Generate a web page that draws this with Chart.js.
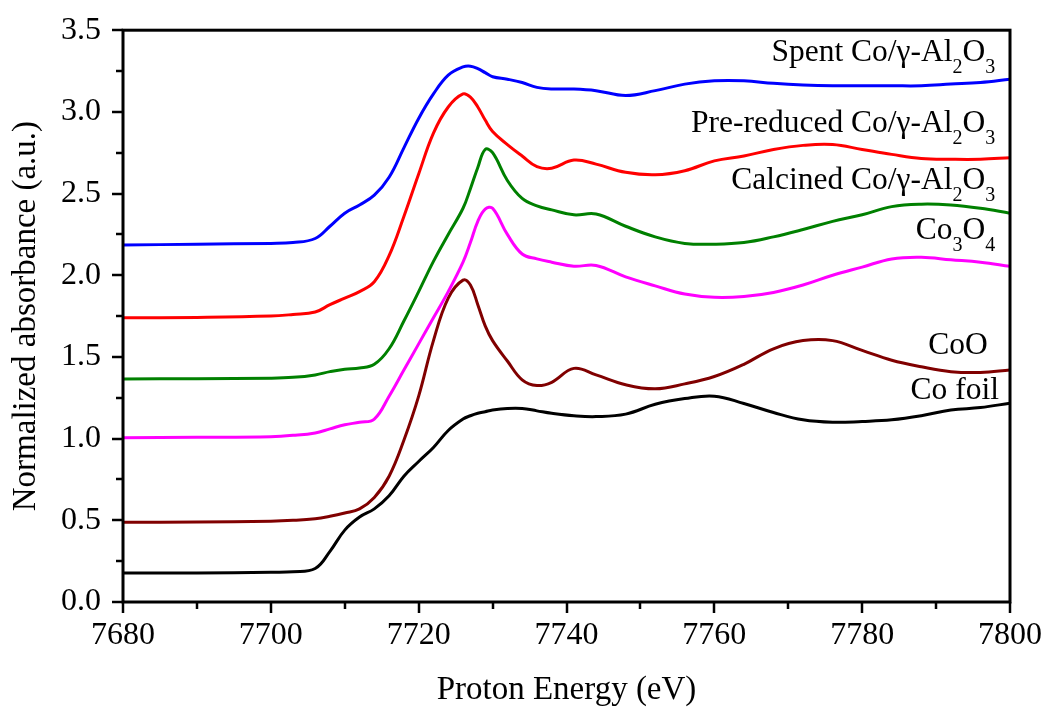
<!DOCTYPE html>
<html>
<head>
<meta charset="utf-8">
<title>Co K-edge XANES</title>
<script src="https://cdn.jsdelivr.net/npm/chart.js@4/dist/chart.umd.min.js"></script>
<style>
    html, body { margin: 0; padding: 0; background: #fff; }
    canvas { display: block; }
</style>
</head>
<body>
<canvas id="xanesChart" width="1047" height="713"></canvas>
<script>
// Photon energy grid (eV), denser around the absorption edge
const energy = [7680, 7690, 7700, 7703, 7706, 7708, 7710, 7712, 7714, 7716, 7718, 7720, 7722, 7724, 7726, 7727, 7728, 7729, 7730, 7732, 7734, 7736, 7738, 7741, 7744, 7748, 7752, 7756, 7760, 7764, 7768, 7772, 7776, 7780, 7784, 7788, 7792, 7796, 7800];

// Normalized absorbance, each spectrum offset vertically
const spent = [2.185, 2.19, 2.195, 2.20, 2.225, 2.30, 2.38, 2.43, 2.49, 2.60, 2.78, 2.96, 3.11, 3.225, 3.275, 3.28, 3.265, 3.24, 3.215, 3.20, 3.18, 3.15, 3.14, 3.14, 3.13, 3.10, 3.13, 3.17, 3.19, 3.19, 3.175, 3.165, 3.16, 3.16, 3.16, 3.16, 3.17, 3.18, 3.20];
const preReduced = [1.74, 1.742, 1.75, 1.76, 1.775, 1.82, 1.86, 1.90, 1.96, 2.12, 2.36, 2.62, 2.87, 3.03, 3.11, 3.09, 3.03, 2.95, 2.88, 2.80, 2.73, 2.665, 2.655, 2.705, 2.68, 2.63, 2.615, 2.64, 2.70, 2.73, 2.77, 2.795, 2.80, 2.77, 2.74, 2.715, 2.71, 2.71, 2.72];
const calcined = [1.365, 1.367, 1.37, 1.375, 1.39, 1.41, 1.425, 1.432, 1.455, 1.55, 1.72, 1.90, 2.085, 2.25, 2.41, 2.53, 2.66, 2.77, 2.75, 2.58, 2.47, 2.425, 2.40, 2.37, 2.375, 2.30, 2.235, 2.195, 2.19, 2.20, 2.235, 2.28, 2.33, 2.37, 2.42, 2.435, 2.43, 2.41, 2.38];
const co3o4 = [1.005, 1.008, 1.012, 1.02, 1.035, 1.06, 1.085, 1.10, 1.12, 1.26, 1.42, 1.58, 1.74, 1.90, 2.08, 2.20, 2.33, 2.405, 2.41, 2.25, 2.13, 2.10, 2.08, 2.055, 2.06, 1.99, 1.935, 1.885, 1.865, 1.87, 1.895, 1.94, 2.00, 2.05, 2.10, 2.11, 2.095, 2.08, 2.055];
const coo = [0.488, 0.49, 0.495, 0.50, 0.51, 0.525, 0.545, 0.57, 0.64, 0.77, 0.99, 1.26, 1.60, 1.86, 1.97, 1.94, 1.82, 1.69, 1.60, 1.475, 1.36, 1.325, 1.345, 1.43, 1.39, 1.33, 1.305, 1.335, 1.38, 1.455, 1.55, 1.60, 1.60, 1.54, 1.48, 1.44, 1.41, 1.405, 1.42];
const coFoil = [0.177, 0.178, 0.182, 0.185, 0.205, 0.31, 0.44, 0.52, 0.57, 0.65, 0.77, 0.86, 0.946, 1.05, 1.12, 1.14, 1.155, 1.165, 1.175, 1.185, 1.185, 1.17, 1.155, 1.14, 1.135, 1.15, 1.21, 1.245, 1.26, 1.215, 1.16, 1.115, 1.10, 1.105, 1.115, 1.14, 1.175, 1.19, 1.217];

const seriesNames = ["Spent", "Pre-reduced", "Calcined", "Co3O4", "CoO", "Co foil"];
const seriesColors = ["#0000ff", "#ff0000", "#008000", "#ff00ff", "#800000", "#000000"];

// Curve captions (text pieces, 1 = subscript), anchored at their right end
const captionTexts = [
    [["Spent Co/\u03b3-Al", 0], ["2", 1], ["O", 0], ["3", 1]],
    [["Pre-reduced Co/\u03b3-Al", 0], ["2", 1], ["O", 0], ["3", 1]],
    [["Calcined Co/\u03b3-Al", 0], ["2", 1], ["O", 0], ["3", 1]],
    [["Co", 0], ["3", 1], ["O", 0], ["4", 1]],
    [["CoO", 0]],
    [["Co foil", 0]]
];
const captionX = [7798, 7798, 7798, 7798, 7797, 7798.5];
const captionY = [3.31, 2.875, 2.53, 2.22, 1.52, 1.245];

const SERIF = '"Liberation Serif", "Times New Roman", serif';

function toPoints(ys) {
    return ys.map((y, i) => ({ x: energy[i], y: y }));
}

const allSeries = [spent, preReduced, calcined, co3o4, coo, coFoil];

// Frame, outward major/minor ticks and curve captions
const decorPlugin = {
    id: "decor",
    afterDraw(chart) {
        const ctx = chart.ctx;
        const area = chart.chartArea;
        const xs = chart.scales.x;
        const ys = chart.scales.y;

        ctx.save();
        ctx.strokeStyle = "#000";
        ctx.lineWidth = 2.5;
        ctx.lineCap = "butt";

        xs.ticks.forEach(t => {
            const px = Math.round(xs.getPixelForValue(t.value));
            const len = t.label !== "" ? 11 : 7;
            ctx.beginPath();
            ctx.moveTo(px, area.bottom);
            ctx.lineTo(px, area.bottom + len);
            ctx.stroke();
        });
        ys.ticks.forEach(t => {
            const py = Math.round(ys.getPixelForValue(t.value));
            const len = t.label !== "" ? 11 : 7;
            ctx.beginPath();
            ctx.moveTo(area.left, py);
            ctx.lineTo(area.left - len, py);
            ctx.stroke();
        });

        ctx.lineWidth = 3;
        ctx.strokeRect(area.left, area.top, area.right - area.left, area.bottom - area.top);

        // captions with subscripts, right aligned
        ctx.fillStyle = "#000";
        ctx.textBaseline = "alphabetic";
        ctx.textAlign = "left";
        const mainFont = "31.5px " + SERIF;
        const subFont = "20px " + SERIF;
        captionTexts.forEach((parts, i) => {
            let width = 0;
            parts.forEach(([txt, sub]) => {
                ctx.font = sub ? subFont : mainFont;
                width += ctx.measureText(txt).width;
            });
            let x = xs.getPixelForValue(captionX[i]) - width;
            const y = ys.getPixelForValue(captionY[i]);
            parts.forEach(([txt, sub]) => {
                ctx.font = sub ? subFont : mainFont;
                ctx.fillText(txt, x, sub ? y + 12 : y);
                x += ctx.measureText(txt).width;
            });
        });
        ctx.restore();
    }
};

new Chart(document.getElementById("xanesChart"), {
    type: "line",
    data: {
        datasets: allSeries.map((ys, i) => ({
            label: seriesNames[i],
            data: toPoints(ys),
            borderColor: seriesColors[i],
            backgroundColor: seriesColors[i],
            borderWidth: 3,
            pointRadius: 0,
            fill: false,
            tension: 0.4
        }))
    },
    options: {
        responsive: false,
        animation: false,
        devicePixelRatio: 1,
        layout: { padding: { top: 28, right: 37, left: 0, bottom: 0 } },
        plugins: {
            legend: { display: false },
            tooltip: { enabled: false }
        },
        scales: {
            x: {
                type: "linear",
                min: 7680,
                max: 7800,
                afterFit: s => { s.height = 111; },
                border: { display: false },
                grid: {
                    drawOnChartArea: false,
                    drawTicks: true,
                    tickLength: 11,
                    tickColor: "rgba(0,0,0,0)"
                },
                ticks: {
                    stepSize: 10,
                    autoSkip: false,
                    maxRotation: 0,
                    padding: 3,
                    color: "#000",
                    font: { family: SERIF, size: 32 },
                    callback: v => (v % 20 === 0 ? String(v) : "")
                },
                title: {
                    display: true,
                    text: "Proton Energy (eV)",
                    color: "#000",
                    font: { family: SERIF, size: 33 },
                    padding: { top: 0, bottom: 3 }
                }
            },
            y: {
                type: "linear",
                min: 0,
                max: 3.5,
                afterFit: s => { s.width = 123; },
                border: { display: false },
                grid: {
                    drawOnChartArea: false,
                    drawTicks: true,
                    tickLength: 11,
                    tickColor: "rgba(0,0,0,0)"
                },
                ticks: {
                    stepSize: 0.25,
                    autoSkip: false,
                    padding: 11,
                    color: "#000",
                    font: { family: SERIF, size: 32 },
                    callback: v => (Math.abs(v * 2 - Math.round(v * 2)) < 1e-6 ? v.toFixed(1) : "")
                },
                title: {
                    display: true,
                    text: "Normalized absorbance (a.u.)",
                    color: "#000",
                    font: { family: SERIF, size: 33 },
                    padding: { top: 7, bottom: 0 }
                }
            }
        }
    },
    plugins: [decorPlugin]
});
</script>
</body>
</html>
